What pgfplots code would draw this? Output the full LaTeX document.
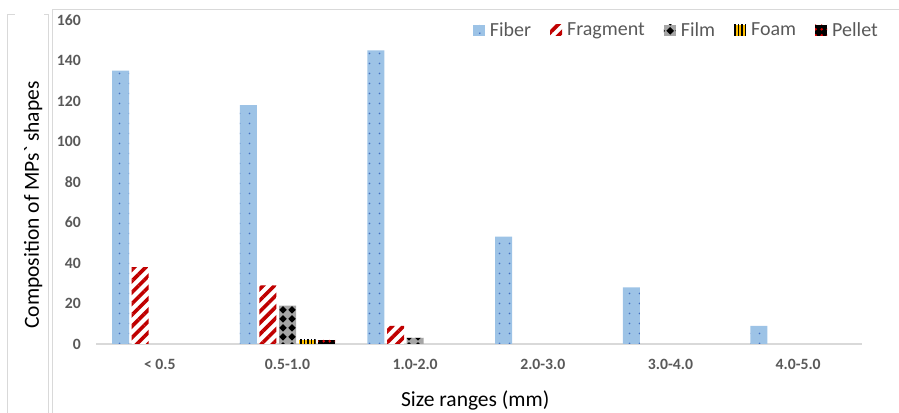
\documentclass[border=0pt]{standalone}
\usepackage{pgfplots}
\pgfplotsset{compat=1.18}
\usepackage{fontspec}
\setmainfont{Carlito}
\usetikzlibrary{patterns.meta}
\definecolor{fiber}{HTML}{9DC3E6}
\definecolor{fiberdot}{HTML}{4472C4}
\definecolor{frag}{HTML}{C00000}
\definecolor{filmgray}{HTML}{A6A6A6}
\definecolor{foam}{HTML}{FFC000}
\definecolor{pelletred}{HTML}{E00000}
\definecolor{axgray}{HTML}{D9D9D9}
\definecolor{txtgray}{HTML}{595959}

\tikzdeclarepattern{
  name=mydiamonds,
  type=uncolored,
  bounding box={(0,0) and (9bp,9bp)},
  tile size={(9bp,9bp)},
  code={\fill (4.5bp,0.4bp) -- (8.6bp,4.5bp) -- (4.5bp,8.6bp) -- (0.4bp,4.5bp) -- cycle;}
}

\pgfplotsset{mysq legend/.style={legend image code/.code={\path[##1] (0bp,-5.5bp) rectangle (12bp,5.5bp);}}}

\begin{document}
\begin{tikzpicture}
\useasboundingbox (0,0) rectangle (899bp,413bp);
\draw[axgray, line width=1bp] (7.5bp,0) -- (7.5bp,398bp) -- (15bp,398bp);
\draw[axgray, line width=1bp] (44bp,398bp) -- (48bp,398bp) -- (48bp,0);
\draw[axgray, line width=1bp] (52bp,0) -- (52bp,403bp) -- (899bp,403bp);
\begin{axis}[
  at={(96bp,69bp)}, anchor=south west,
  scale only axis, width=766bp, height=324bp,
  ymin=0, ymax=160, xmin=-0.5, xmax=5.5,
  ybar=2.6bp, bar width=17bp,
  axis x line*=bottom, axis y line*=left,
  y axis line style={draw=none},
  x axis line style={axgray, line width=1.5bp},
  major tick length=0pt,
  xtick={0,1,2,3,4,5},
  xticklabels={{< 0.5},{0.5-1.0},{1.0-2.0},{2.0-3.0},{3.0-4.0},{4.0-5.0}},
  ytick={0,20,...,160},
  /pgf/number format/assume math mode=true,
  tick label style={font=\fontsize{15.7bp}{19bp}\selectfont\bfseries, text=txtgray},
  xticklabel style={anchor=center, yshift=-20bp},
  yticklabel style={anchor=east, inner sep=0pt, xshift=-15bp},
  xlabel={Size ranges (mm)},
  ylabel={Composition of MPs\textasciigrave{} shapes},
  label style={font=\fontsize{21.5bp}{25bp}\selectfont},
  xlabel style={at={(axis description cs:0.495,-0.173)}, anchor=center},
  ylabel style={at={(axis description cs:-0.0822,0.429)}, anchor=center},
  legend style={at={(axis description cs:1.0209,0.969)}, anchor=east, draw=none, fill=none, inner sep=0pt,
    font=\fontsize{20bp}{24bp}\selectfont, text=txtgray, nodes={inner sep=0pt},
    /tikz/every odd column/.append style={column sep=5bp},
    /tikz/every even column/.append style={column sep=19bp}},
  legend cell align=left,
  legend columns=5,
  every axis plot post/.append style={mysq legend},
]
\addplot[fill=fiber, draw=none, postaction={pattern={Dots[distance=10bp, radius=1bp]}, pattern color=fiberdot}]
  coordinates {(0,135) (1,118) (2,145) (3,53) (4,28) (5,9)};
\addplot[fill=white, draw=none, postaction={pattern={Lines[angle=45, distance=8bp, line width=3.6bp]}, pattern color=frag}]
  coordinates {(0,38) (1,29) (2,9)};
\addplot[fill=filmgray, draw=none, postaction={pattern=mydiamonds, pattern color=black}]
  coordinates {(1,19) (2,3)};
\addplot[fill=foam, draw=none, postaction={pattern={Lines[angle=90, distance=3.5bp, line width=1.3bp]}, pattern color=black}]
  coordinates {(1,2)};
\addplot[fill=black, draw=none, postaction={pattern={Dots[distance=6bp, radius=1.6bp]}, pattern color=pelletred}]
  coordinates {(1,2)};
\legend{Fiber,Fragment,Film,Foam,Pellet}
\end{axis}
\end{tikzpicture}
\end{document}
